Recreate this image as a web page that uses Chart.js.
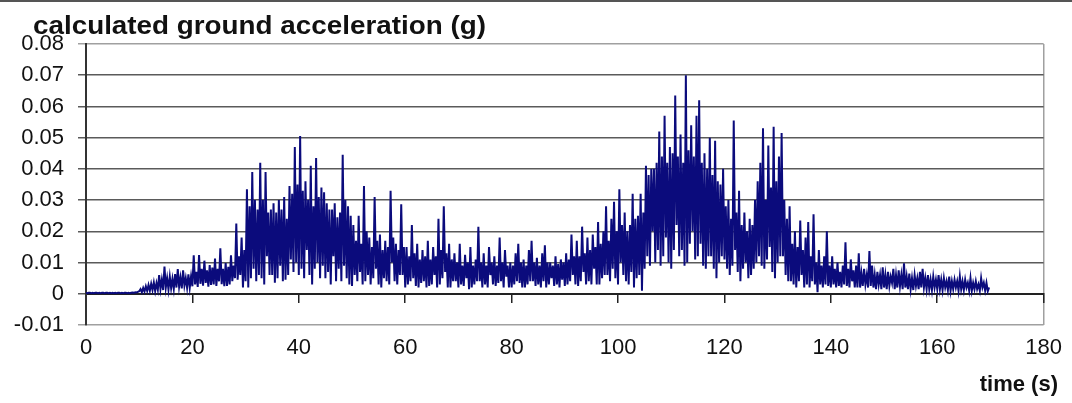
<!DOCTYPE html>
<html>
<head>
<meta charset="utf-8">
<script src="https://cdn.jsdelivr.net/npm/chart.js@4.4.1/dist/chart.umd.min.js"></script>
<style>
  html, body { margin: 0; padding: 0; background: #fff; }
  #wrap { position: relative; width: 1072px; height: 403px; overflow: hidden; }
  #wrap:before { content: ""; position: absolute; left: 0; top: 0; width: 1072px; height: 2px; background: #555; }
  #title { position: absolute; left: 33px; top: 12px; font: bold 26px "Liberation Sans", Arial, sans-serif; line-height: 26px; color: #111; white-space: nowrap; transform: scaleX(1.07); transform-origin: left top; }
  #xlabel { position: absolute; right: 14px; top: 373px; font: bold 22px "Liberation Sans", Arial, sans-serif; line-height: 22px; color: #111; white-space: nowrap; }
</style>
</head>
<body>
<div id="wrap">
  <canvas id="accelChart" width="1072" height="403"></canvas>
  <div id="title">calculated ground acceleration (g)</div>
  <div id="xlabel">time (s)</div>
</div>
<script>
// ground acceleration, in milli-g, one value every 0.25 s from t = 0
// (one row = 5 s)
var sampleStep = 0.25;
var accelMilliG = [
  0.3, 0.2, 0.3, 0.3, 0.2, 0.3, 0.2, 0.3, 0.3, 0.2, 0.3, 0.2, 0.3, 0.3, 0.2, 0.3, 0.3, 0.2, 0.3, 0.2,
  0.3, 0.2, 0.3, 0.2, 0.3, 0.3, 0.2, 0.3, 0.2, 0.3, 0.3, 0.2, 0.3, 0.2, 0.3, 0.4, 0.3, 0.5, 0.4, 0.6,
  0.8, 1.5, 0.5, 1.9, 0.7, 2.4, 0.9, 2.8, 1.0, 3.2, 1.2, 3.6, 0.9, 3.4, 1.3, 6.0, 1.5, 4.5, 1.2, 8.7,
  2.0, 5.0, 1.4, 5.5, 1.8, 4.8, 1.6, 6.3, 2.0, 7.9, 2.3, 5.2, 1.7, 7.5, 2.6, 5.0, 1.9, 6.2, 2.0, 5.6,
  2.4, 12.3, 3.0, 7.0, 2.2, 12.4, 3.2, 8.0, 2.6, 10.6, 3.5, 7.5, 2.3, 9.2, 2.8, 8.4, 3.0, 11.3, 2.5, 8.0,
  4.0, 14.6, 3.1, 8.0, 2.4, 9.8, 2.5, 8.6, 3.0, 12.3, 4.0, 9.0, 5.0, 22.5, 4.5, 12.0, 6.0, 18.0, 2.0, 14.0,
  4.0, 33.5, 2.0, 28.0, 5.0, 39.0, 8.0, 30.0, 4.0, 27.0, 6.0, 42.0, 5.0, 30.0, 3.0, 39.0, 12.0, 26.0, 6.0, 27.0,
  6.0, 29.0, 3.5, 26.0, 5.0, 30.0, 9.0, 27.0, 4.0, 31.0, 4.5, 24.0, 6.0, 34.5, 11.0, 32.0, 7.0, 47.0, 10.0, 35.0,
  6.0, 50.5, 8.0, 33.0, 5.0, 36.0, 14.0, 30.0, 6.0, 41.0, 3.0, 28.0, 8.0, 43.5, 10.0, 31.0, 5.0, 34.0, 9.0, 32.5,
  5.0, 29.0, 7.0, 27.0, 3.0, 27.0, 12.0, 29.0, 4.0, 24.5, 8.0, 26.0, 4.0, 44.5, 9.0, 30.0, 5.0, 28.0, 3.0, 25.0,
  2.5, 22.0, 6.0, 17.0, 4.0, 25.0, 7.0, 16.0, 3.0, 34.5, 4.0, 20.0, 6.0, 18.0, 3.0, 15.0, 5.0, 31.0, 8.0, 17.0,
  3.0, 19.0, 2.0, 14.0, 5.0, 17.0, 4.0, 15.0, 3.0, 33.0, 10.0, 18.0, 4.0, 16.0, 3.0, 14.0, 6.0, 28.7, 6.0, 15.0,
  2.0, 15.0, 3.0, 12.0, 4.0, 22.0, 5.0, 13.0, 2.5, 16.0, 2.0, 11.0, 3.5, 14.0, 4.0, 12.0, 2.0, 17.0, 2.5, 11.0,
  3.0, 15.0, 6.0, 12.0, 2.0, 24.0, 3.0, 14.0, 5.0, 28.0, 7.0, 13.0, 2.0, 16.0, 2.0, 11.0, 4.0, 13.0, 4.0, 10.0,
  2.0, 16.0, 3.0, 9.0, 2.5, 12.5, 5.0, 10.0, 1.5, 15.0, 2.0, 9.0, 3.0, 11.0, 4.0, 21.5, 4.0, 10.0, 2.0, 13.0,
  3.0, 9.0, 2.0, 15.0, 6.0, 10.0, 3.0, 12.0, 2.5, 9.0, 3.5, 18.0, 4.0, 10.0, 2.0, 14.0, 5.5, 9.0, 2.0, 10.0,
  2.0, 9.0, 3.0, 13.0, 4.0, 16.0, 3.5, 10.0, 2.0, 11.0, 2.0, 9.0, 3.0, 14.0, 4.0, 17.0, 4.0, 10.0, 2.5, 11.5,
  3.0, 9.0, 2.0, 13.0, 4.0, 15.5, 2.0, 10.0, 3.0, 10.0, 5.0, 9.0, 2.5, 12.0, 3.0, 9.5, 2.0, 11.0, 4.5, 10.0,
  2.5, 13.0, 3.0, 11.0, 4.0, 19.0, 6.0, 12.0, 3.0, 17.0, 2.5, 12.0, 4.0, 21.5, 7.0, 13.0, 3.0, 18.0, 4.0, 14.0,
  3.0, 19.0, 8.0, 15.0, 3.0, 23.0, 3.0, 16.0, 5.0, 20.0, 6.0, 28.0, 6.0, 17.0, 4.0, 24.0, 8.0, 29.5, 5.0, 20.0,
  3.0, 33.5, 10.0, 22.0, 6.0, 26.0, 4.0, 20.0, 3.0, 22.0, 7.0, 32.0, 2.0, 24.0, 5.0, 25.0, 6.0, 32.0, 1.0, 26.0,
  8.0, 41.0, 12.0, 38.0, 9.0, 40.0, 20.0, 40.0, 10.0, 42.0, 14.0, 52.0, 9.0, 44.0, 12.0, 57.0, 18.0, 42.0, 10.0, 47.0,
  8.0, 45.0, 14.0, 63.5, 22.0, 44.0, 12.0, 51.0, 14.0, 42.0, 9.0, 70.0, 10.0, 46.0, 16.0, 54.0, 20.0, 44.0, 11.0, 57.0,
  12.0, 62.0, 16.0, 42.0, 9.0, 45.0, 8.0, 40.0, 12.0, 50.0, 12.0, 38.0, 8.0, 49.0, 5.0, 36.0, 10.0, 35.0, 12.0, 40.0,
  11.0, 28.0, 8.0, 30.0, 6.0, 24.0, 9.0, 55.5, 14.0, 26.0, 7.0, 33.0, 4.0, 22.0, 8.0, 26.0, 10.0, 20.0, 5.0, 24.0,
  6.0, 22.0, 8.0, 30.0, 10.0, 36.0, 12.0, 42.0, 9.0, 53.0, 8.0, 30.0, 11.0, 47.5, 15.0, 34.0, 7.0, 53.5, 5.0, 36.0,
  10.0, 44.0, 12.0, 51.5, 12.0, 30.0, 6.0, 24.0, 4.0, 28.0, 4.0, 16.0, 3.0, 20.0, 2.0, 15.0, 4.0, 23.5, 6.0, 14.0,
  2.0, 18.0, 3.0, 23.0, 2.0, 12.0, 4.0, 25.5, 3.0, 10.0, 0.5, 14.0, 3.0, 9.0, 2.0, 12.0, 3.0, 20.0, 2.5, 9.0,
  2.0, 12.0, 3.0, 8.0, 2.0, 10.0, 2.5, 7.0, 2.0, 9.0, 3.0, 16.5, 2.5, 8.0, 2.0, 11.0, 4.0, 7.5, 2.0, 9.0,
  2.0, 13.0, 2.0, 6.5, 2.5, 8.0, 3.0, 6.0, 2.0, 13.7, 2.5, 9.0, 2.0, 6.0, 1.5, 7.0, 3.0, 6.0, 1.5, 8.5,
  2.0, 6.0, 1.5, 7.0, 2.5, 5.5, 3.5, 8.0, 1.5, 6.0, 2.0, 7.5, 2.5, 6.0, 1.5, 9.8, 2.0, 5.5, 1.5, 6.5,
  1.5, 5.0, 1.2, 6.0, 2.5, 5.0, 1.5, 7.0, 2.0, 8.0, 2.0, 5.0, 1.5, 6.0, 1.5, 4.5, 1.2, 5.5, 2.0, 4.5,
  1.5, 6.0, 1.5, 4.5, 1.2, 5.0, 2.0, 4.0, 1.2, 5.5, 1.0, 4.0, 1.5, 4.5, 2.0, 4.0, 1.0, 5.5, 1.5, 4.0,
  1.2, 4.5, 2.0, 3.5, 1.0, 5.0, 1.0, 3.5, 1.5, 4.0, 1.5, 3.0, 1.0, 5.0, 2.0, 3.5, 1.0, 3.5, 0.8, 2.0
];
var timeTicks = [0, 20, 40, 60, 80, 100, 120, 140, 160, 180];
var accelTicks = [-0.01, 0, 0.01, 0.02, 0.03, 0.04, 0.05, 0.06, 0.07, 0.08];
var accelTickLabels = ["-0.01", "0", "0.01", "0.02", "0.03", "0.04", "0.05", "0.06", "0.07", "0.08"];

var points = accelMilliG.map(function(v, i) {
    return { x: i * sampleStep, y: v / 1000 };
});

var tickFont = { family: "'Liberation Sans', Arial, sans-serif", size: 22 };

function setTicks(list) {
    return function(scale) {
        scale.ticks = list.map(function(v) { return { value: v }; });
    };
}

new Chart(document.getElementById("accelChart").getContext("2d"), {
    type: "line",
    data: {
        datasets: [{
            data: points,
            borderColor: "#0b0b7c",
            borderWidth: 2,
            borderJoinStyle: "miter",
            pointRadius: 0,
            tension: 0,
            fill: false
        }]
    },
    options: {
        responsive: false,
        animation: false,
        devicePixelRatio: 1,
        layout: { padding: { left: 0, top: 44, right: 25, bottom: 38 } },
        plugins: { legend: { display: false }, tooltip: { enabled: false } },
        scales: {
            x: {
                type: "linear",
                min: 0,
                max: 180,
                afterBuildTicks: setTicks(timeTicks),
                afterFit: function(scale) { scale.height = 40; },
                border: { display: false },
                grid: {
                    drawTicks: false,
                    lineWidth: 1.5,
                    color: function(ctx) {
                        return ctx.tick && ctx.tick.value === 180 ? "#a0a0a0" : "rgba(0,0,0,0)";
                    }
                },
                ticks: { color: "#111", font: tickFont, padding: 10, maxRotation: 0 }
            },
            x2: {
                type: "linear",
                axis: "x",
                position: { y: 0 },
                min: 0,
                max: 180,
                afterBuildTicks: setTicks(timeTicks),
                border: { color: "#222", width: 2 },
                grid: { drawOnChartArea: false, tickLength: 8, color: "#222", lineWidth: 1.5 },
                ticks: { display: false }
            },
            y: {
                min: -0.01,
                max: 0.08,
                afterBuildTicks: setTicks(accelTicks),
                afterFit: function(scale) { scale.width = 86; },
                border: { color: "#333", width: 2 },
                grid: {
                    tickLength: 8,
                    lineWidth: 1.5,
                    color: function(ctx) {
                        var v = ctx.tick ? Math.round(ctx.tick.value * 100) : 1;
                        if (v === 8 || v === -1) return "#a0a0a0";
                        return "#5a5a5a";
                    }
                },
                ticks: {
                    color: "#111",
                    font: tickFont,
                    padding: 14,
                    callback: function(value, index) { return accelTickLabels[index]; }
                }
            }
        }
    }
});
</script>
</body>
</html>
